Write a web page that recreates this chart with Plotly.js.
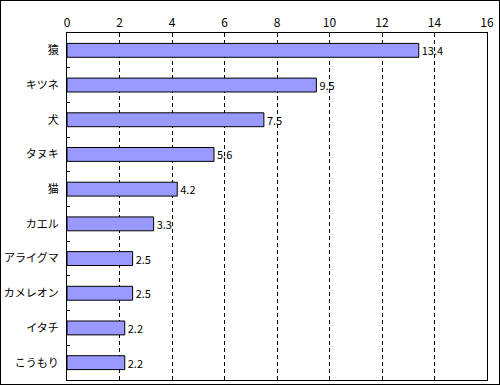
<!DOCTYPE html>
<html><head><meta charset="utf-8">
<script src="https://cdn.plot.ly/plotly-3.0.1.min.js"></script>
<style>html,body{margin:0;padding:0;background:#fff}#c{width:498px;height:383px;border:1px solid #000}</style>
</head><body><div id="c"></div>
<script>
const categories = ["猿","キツネ","犬","タヌキ","猫","カエル","アライグマ","カメレオン","イタチ","こうもり"];
const values = [13.4, 9.5, 7.5, 5.6, 4.2, 3.3, 2.5, 2.5, 2.2, 2.2];
const labels = values.map(v => v.toFixed(1));
const font = "'Noto Sans CJK JP', 'DejaVu Sans', sans-serif";
Plotly.newPlot('c', [{
  type: 'bar', orientation: 'h', x: values, y: categories,
  text: labels, textposition: 'outside', cliponaxis: false, constraintext: 'none',
  textfont: {family: font, size: 11, color: '#000'},
  marker: {color: '#9999FF', line: {color: '#000', width: 1}},
  width: 0.4, hoverinfo: 'none'
}], {
  width: 498, height: 383,
  margin: {l: 66, r: 12, t: 32, b: 4},
  paper_bgcolor: '#fff', plot_bgcolor: '#fff',
  font: {family: font, size: 11, color: '#000'},
  showlegend: false,
  xaxis: {side: 'top', range: [0, 16], dtick: 2, showgrid: true, gridcolor: '#000', griddash: '4px,3px', gridwidth: 1,
          showline: true, linecolor: '#000', linewidth: 1, mirror: true, zeroline: false, ticks: '', fixedrange: true,
          tickfont: {family: font, size: 12}},
  yaxis: {autorange: 'reversed', showline: true, linecolor: '#000', linewidth: 1, mirror: true,
          ticks: 'inside', tickson: 'boundaries', ticklen: 3, tickcolor: '#000', showgrid: false, zeroline: false,
          tickfont: {family: font, size: 11}, ticklabelstandoff: 5}
}, {staticPlot: true});
</script></body></html>
